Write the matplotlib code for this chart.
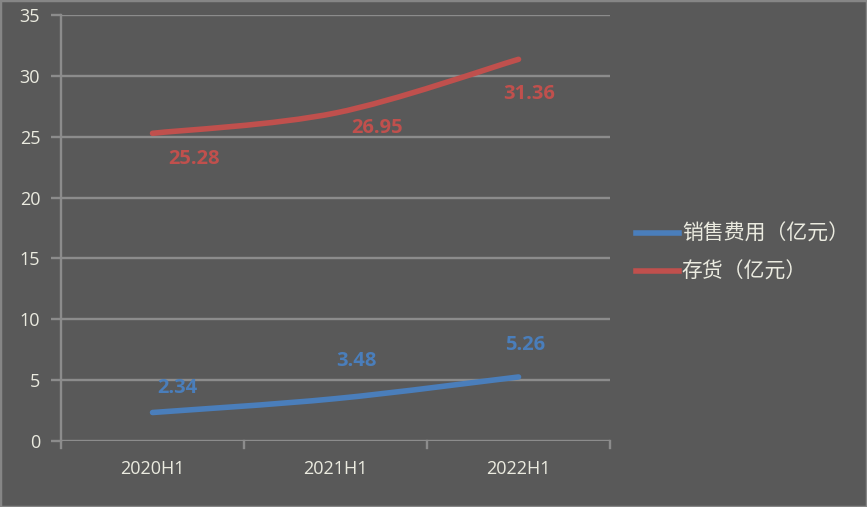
import numpy as np
import matplotlib
matplotlib.use("Agg")
import matplotlib.pyplot as plt
from matplotlib.path import Path
from matplotlib.patches import PathPatch, Rectangle
from matplotlib.lines import Line2D

plt.rcParams['font.family'] = ['Noto Sans CJK SC', 'DejaVu Sans']

categories = ["2020H1", "2021H1", "2022H1"]
sales_cost = [2.34, 3.48, 5.26]
inventory = [25.28, 26.95, 31.36]
series_names = ["销售费用（亿元）", "存货（亿元）"]
y_ticks = [0, 5, 10, 15, 20, 25, 30, 35]

BG = "#595959"
GRID = "#8c8c8c"
TXT = "#ebebe0"
BLUE = "#4a7ebb"
RED = "#c0504d"


def smooth_path(xs, ys):
    """Excel-like smoothed line through the points (Catmull-Rom as Bezier)."""
    pts = np.column_stack([xs, ys]).astype(float)
    n = len(pts)
    verts = [pts[0]]
    codes = [Path.MOVETO]
    for i in range(n - 1):
        p0 = pts[i - 1] if i > 0 else pts[i]
        p1 = pts[i]
        p2 = pts[i + 1]
        p3 = pts[i + 2] if i + 2 < n else pts[i + 1]
        c1 = p1 + (p2 - p0) / 6.0
        c2 = p2 - (p3 - p1) / 6.0
        verts += [c1, c2, p2]
        codes += [Path.CURVE4] * 3
    return Path(verts, codes)


fig = plt.figure(figsize=(8.67, 5.07), dpi=100, facecolor=BG)
fig.patches.append(Rectangle((0, 0), 1, 1, transform=fig.transFigure,
                             fill=False, edgecolor="#868686", lw=2.5))
ax = fig.add_axes([0.0704, 0.1302, 0.6332, 0.8402])
ax.set_facecolor(BG)

x = np.arange(len(categories))
ax.set_xlim(-0.5, len(categories) - 0.5)
ax.set_ylim(0, 35)

for yv in y_ticks:
    ax.axhline(yv, color=GRID, lw=1.7, zorder=1)

for s in ["top", "right", "bottom"]:
    ax.spines[s].set_visible(False)
ax.spines["left"].set_color(GRID)
ax.spines["left"].set_linewidth(1.7)

ax.set_yticks(y_ticks)
ax.tick_params(axis="y", colors=GRID, length=7, width=1.7, labelcolor=TXT,
               labelsize=13, pad=8)
ax.set_xticks(x)
ax.set_xticklabels(categories)
ax.tick_params(axis="x", length=0, labelcolor=TXT, labelsize=13, pad=14)
for xb in np.arange(-0.5, len(categories), 1.0):
    ax.plot([xb, xb], [0, -0.016], transform=ax.get_xaxis_transform(),
            color=GRID, lw=1.7, clip_on=False)
for lab in ax.get_yticklabels() + ax.get_xticklabels():
    lab.set_family(["Open Sans", "DejaVu Sans"])

for vals, col in [(sales_cost, BLUE), (inventory, RED)]:
    ax.add_patch(PathPatch(smooth_path(x, vals), fill=False, edgecolor=col,
                           lw=4, capstyle="round", zorder=3))

# data label offsets in pixels (dx, dy)
blue_off = [(25, 25), (21, 38), (7, 32)]
red_off = [(42, -26), (42, -15), (11, -35)]
for vals, col, offs in [(sales_cost, BLUE, blue_off), (inventory, RED, red_off)]:
    for xi, v, (dx, dy) in zip(x, vals, offs):
        ax.annotate(f"{v:.2f}", (xi, v), xytext=(dx * 0.72, dy * 0.72),
                    textcoords="offset points", ha="center", va="center",
                    color=col, fontsize=14.5, fontweight="bold",
                    family=["Open Sans", "DejaVu Sans"], zorder=4)

handles = [Line2D([], [], color=BLUE, lw=4), Line2D([], [], color=RED, lw=4)]
leg = fig.legend(handles, series_names, loc="center left",
                 bbox_to_anchor=(0.712, 0.501), frameon=False, fontsize=15,
                 handlelength=2.05, handletextpad=0.15, labelspacing=0.78)
for t in leg.get_texts():
    t.set_color(TXT)

fig.savefig("out.png", dpi=100, facecolor=BG)
